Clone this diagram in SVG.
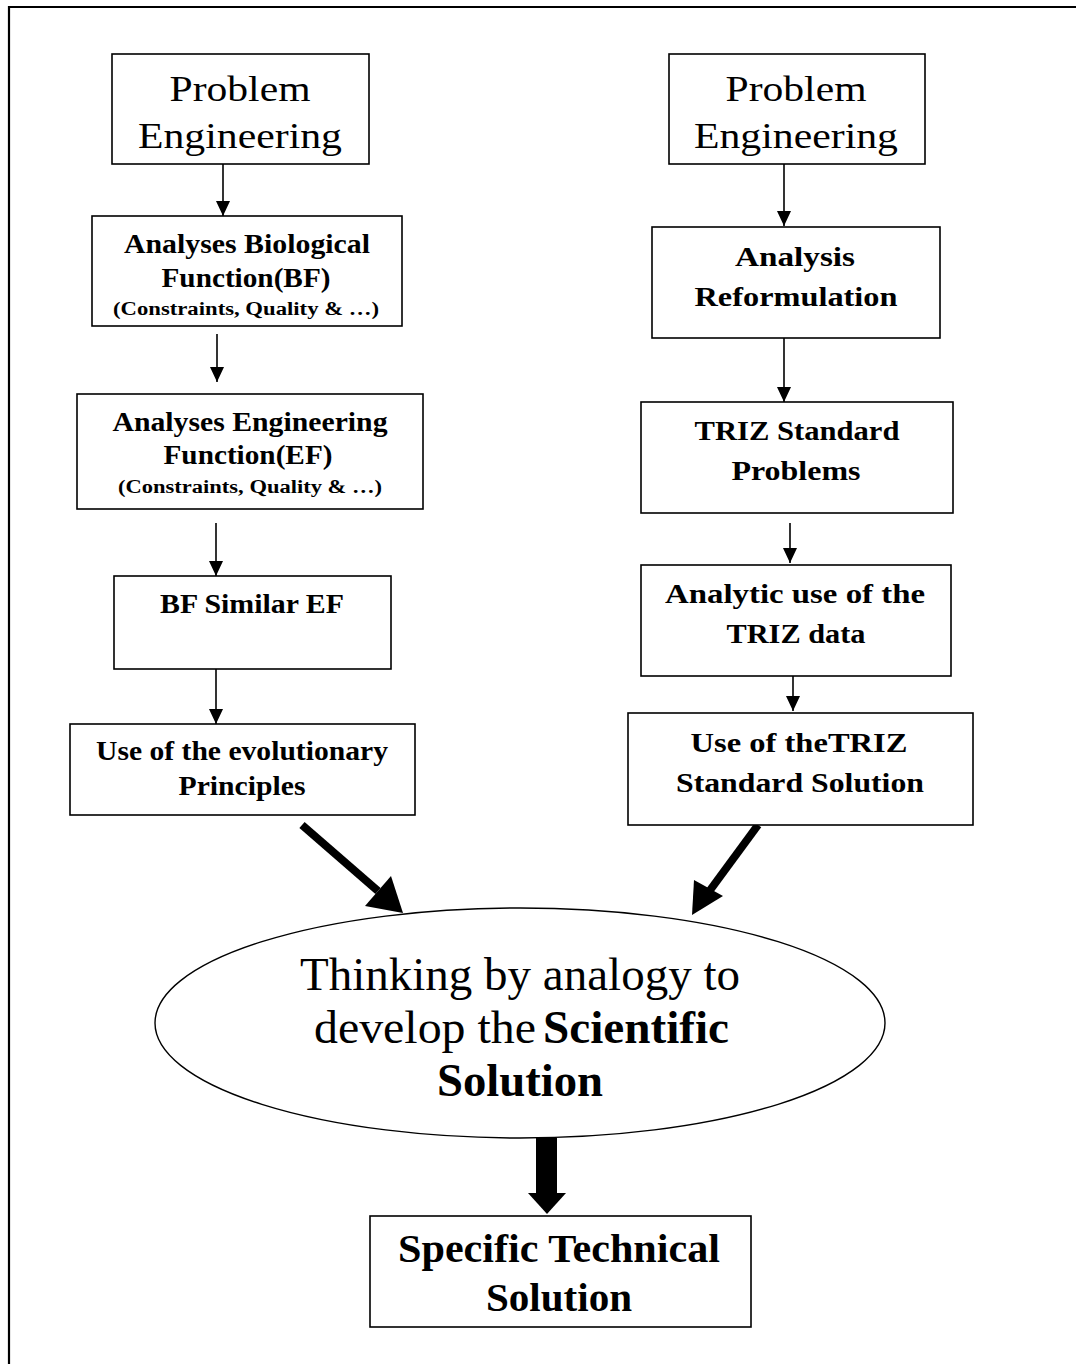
<svg xmlns="http://www.w3.org/2000/svg" width="1076" height="1364" viewBox="0 0 1076 1364">
<style>
.box{fill:#fff;stroke:#000;stroke-width:1.6}
text{font-family:'Liberation Serif','Times New Roman',Times,serif;fill:#000;text-anchor:middle}
.big{font-size:36px}
.b{font-size:27px;font-weight:bold}
.s{font-size:18px;font-weight:bold}
.el{font-size:46px}
.fin{font-size:40px;font-weight:bold}
.thin{stroke:#000;stroke-width:1.6;fill:none}
.thick{stroke:#000;stroke-width:8;fill:none}
</style>
<defs>
<marker id="ah" markerUnits="userSpaceOnUse" markerWidth="16" markerHeight="16" viewBox="0 0 16 16" refX="15" refY="8" orient="auto">
<path d="M0,1 L15,8 L0,15 Z" fill="#000"/>
</marker>
</defs>
<rect x="0" y="0" width="1076" height="1364" fill="#fff"/>
<path d="M9,1364 L9,7 L1076,7" fill="none" stroke="#000" stroke-width="2.2"/>

<g id="connectors">
<line class="thin" x1="223" y1="164" x2="223" y2="216" marker-end="url(#ah)"/>
<line class="thin" x1="217" y1="334" x2="217" y2="382" marker-end="url(#ah)"/>
<line class="thin" x1="216" y1="523" x2="216" y2="576" marker-end="url(#ah)"/>
<line class="thin" x1="216" y1="665" x2="216" y2="724" marker-end="url(#ah)"/>
<line class="thin" x1="784" y1="164" x2="784" y2="226" marker-end="url(#ah)"/>
<line class="thin" x1="784" y1="338" x2="784" y2="402" marker-end="url(#ah)"/>
<line class="thin" x1="790" y1="523" x2="790" y2="563" marker-end="url(#ah)"/>
<line class="thin" x1="793" y1="673" x2="793" y2="711" marker-end="url(#ah)"/>
<line class="thick" x1="302" y1="825" x2="378" y2="891"/>
<path d="M365,906 L403,913 L391,876 Z" fill="#000"/>
<line class="thick" x1="758" y1="825" x2="708" y2="893"/>
<path d="M692,915 L723,896 L694,880 Z" fill="#000"/>
<rect x="536" y="1136" width="21" height="58" fill="#000"/>
<path d="M528,1193 L566,1193 L547,1214 Z" fill="#000"/>
</g>

<g id="n-pe-left">
<rect class="box" x="112" y="54" width="257" height="110"/>
<text class="big" x="240" y="101" textLength="141" lengthAdjust="spacingAndGlyphs">Problem</text>
<text class="big" x="240" y="148" textLength="204" lengthAdjust="spacingAndGlyphs">Engineering</text>
</g>
<g id="n-bf">
<rect class="box" x="92" y="216" width="310" height="110"/>
<text class="b" x="247" y="253" textLength="246" lengthAdjust="spacingAndGlyphs">Analyses Biological</text>
<text class="b" x="246" y="287" textLength="169" lengthAdjust="spacingAndGlyphs">Function(BF)</text>
<text class="s" x="246" y="315" textLength="266" lengthAdjust="spacingAndGlyphs">(Constraints, Quality &amp; …)</text>
</g>
<g id="n-ef">
<rect class="box" x="77" y="394" width="346" height="115"/>
<text class="b" x="250" y="431" textLength="275" lengthAdjust="spacingAndGlyphs">Analyses Engineering</text>
<text class="b" x="248" y="464" textLength="169" lengthAdjust="spacingAndGlyphs">Function(EF)</text>
<text class="s" x="250" y="493" textLength="264" lengthAdjust="spacingAndGlyphs">(Constraints, Quality &amp; …)</text>
</g>
<g id="n-sim">
<rect class="box" x="114" y="576" width="277" height="93"/>
<text class="b" x="252" y="613" textLength="184" lengthAdjust="spacingAndGlyphs">BF Similar EF</text>
</g>
<g id="n-evo">
<rect class="box" x="70" y="724" width="345" height="91"/>
<text class="b" x="242" y="760" textLength="292" lengthAdjust="spacingAndGlyphs">Use of the evolutionary</text>
<text class="b" x="242" y="795" textLength="127" lengthAdjust="spacingAndGlyphs">Principles</text>
</g>

<g id="n-pe-right">
<rect class="box" x="669" y="54" width="256" height="110"/>
<text class="big" x="796" y="101" textLength="141" lengthAdjust="spacingAndGlyphs">Problem</text>
<text class="big" x="796" y="148" textLength="204" lengthAdjust="spacingAndGlyphs">Engineering</text>
</g>
<g id="n-ref">
<rect class="box" x="652" y="227" width="288" height="111"/>
<text class="b" x="795" y="266" textLength="120" lengthAdjust="spacingAndGlyphs">Analysis</text>
<text class="b" x="796" y="306" textLength="203" lengthAdjust="spacingAndGlyphs">Reformulation</text>
</g>
<g id="n-triz">
<rect class="box" x="641" y="402" width="312" height="111"/>
<text class="b" x="797" y="440" textLength="205" lengthAdjust="spacingAndGlyphs">TRIZ Standard</text>
<text class="b" x="796" y="480" textLength="129" lengthAdjust="spacingAndGlyphs">Problems</text>
</g>
<g id="n-data">
<rect class="box" x="641" y="565" width="310" height="111"/>
<text class="b" x="795" y="603" textLength="260" lengthAdjust="spacingAndGlyphs">Analytic use of the</text>
<text class="b" x="796" y="643" textLength="139" lengthAdjust="spacingAndGlyphs">TRIZ data</text>
</g>
<g id="n-sol">
<rect class="box" x="628" y="713" width="345" height="112"/>
<text class="b" x="799" y="752" textLength="217" lengthAdjust="spacingAndGlyphs">Use of theTRIZ</text>
<text class="b" x="800" y="792" textLength="248" lengthAdjust="spacingAndGlyphs">Standard Solution</text>
</g>

<g id="n-analogy">
<ellipse cx="520" cy="1023" rx="365" ry="115" fill="#fff" stroke="#000" stroke-width="1.4"/>
<text class="el" x="520" y="990" textLength="440" lengthAdjust="spacingAndGlyphs">Thinking by analogy to</text>
<text class="el" x="425" y="1043" textLength="222" lengthAdjust="spacingAndGlyphs">develop the</text>
<text class="el" x="636" y="1043" font-weight="bold" textLength="186" lengthAdjust="spacingAndGlyphs">Scientific</text>
<text class="el" x="520" y="1096" font-weight="bold" textLength="166" lengthAdjust="spacingAndGlyphs">Solution</text>
</g>

<g id="n-specific">
<rect class="box" x="370" y="1216" width="381" height="111"/>
<text class="fin" x="559" y="1262" textLength="322" lengthAdjust="spacingAndGlyphs">Specific Technical</text>
<text class="fin" x="559" y="1311" textLength="146" lengthAdjust="spacingAndGlyphs">Solution</text>
</g>
</svg>
